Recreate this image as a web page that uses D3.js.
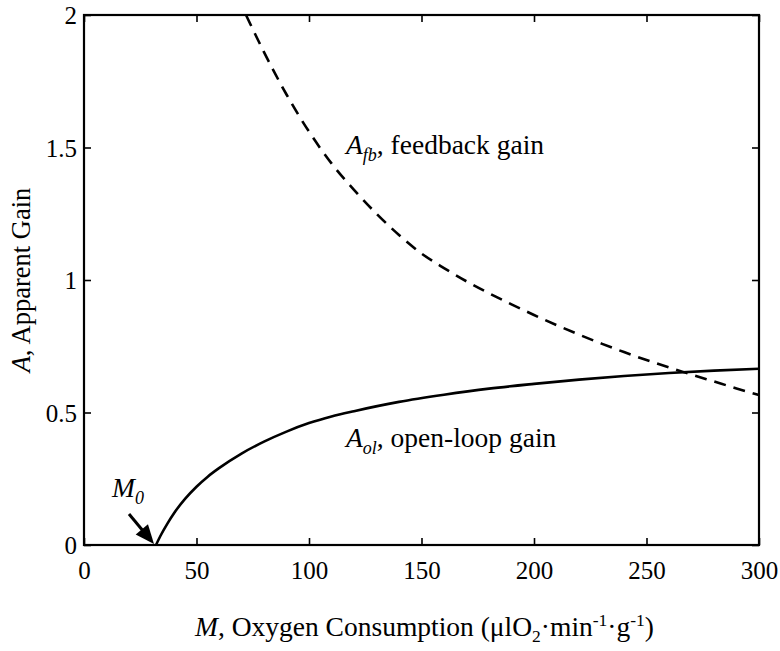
<!DOCTYPE html>
<html>
<head>
<meta charset="utf-8">
<script src="https://cdn.jsdelivr.net/npm/d3@7"></script>
<style>
  body { margin: 0; background: #fff; }
  svg { display: block; }
  text { font-family: "Liberation Serif", "Times New Roman", serif; fill: #000; }
</style>
</head>
<body>
<svg id="chart" width="780" height="651"></svg>
<script>
// ---- data ----
const openLoopM = [32, 34, 37, 40, 45, 50, 55, 60, 70, 80, 90, 100, 110, 120, 140, 160, 180, 200, 220, 240, 260, 280, 300];
const openLoopA = [0, 0.035, 0.08, 0.12, 0.175, 0.22, 0.258, 0.29, 0.345, 0.39, 0.428, 0.46, 0.485, 0.505, 0.54, 0.567, 0.59, 0.608, 0.624, 0.638, 0.649, 0.658, 0.665];
const feedbackM = [72, 80, 90, 100, 110, 120, 130, 140, 150, 160, 170, 180, 190, 200, 210, 220, 230, 240, 250, 260, 270, 280, 290, 300];
const feedbackA = [2.0, 1.86, 1.70, 1.56, 1.44, 1.34, 1.25, 1.17, 1.10, 1.045, 0.995, 0.95, 0.908, 0.868, 0.83, 0.794, 0.76, 0.728, 0.698, 0.67, 0.643, 0.617, 0.591, 0.566];
const xTicks = [0, 50, 100, 150, 200, 250, 300];
const yTicks = [0, 0.5, 1, 1.5, 2];
const m0Value = 32;

// ---- layout ----
const svg = d3.select("#chart");
const pL = 84, pR = 759, pT = 15, pB = 545;
const x = d3.scaleLinear().domain([0, 300]).range([pL, pR]);
const y = d3.scaleLinear().domain([0, 2]).range([pB, pT]);
const tick = 7;
const serif = '"Liberation Serif", "Times New Roman", serif';

// axes
const gx = svg.append("g").attr("transform", `translate(0,${pB})`)
  .call(d3.axisBottom(x).tickValues(xTicks).tickSizeInner(-tick).tickSizeOuter(0).tickPadding(16).tickFormat(d => String(d)));
const gxt = svg.append("g").attr("transform", `translate(0,${pT})`)
  .call(d3.axisTop(x).tickValues(xTicks).tickSizeInner(-tick).tickSizeOuter(0).tickFormat(""));
const gy = svg.append("g").attr("transform", `translate(${pL},0)`)
  .call(d3.axisLeft(y).tickValues(yTicks).tickSizeInner(-tick).tickSizeOuter(0).tickPadding(7).tickFormat(d => String(d)));
const gyr = svg.append("g").attr("transform", `translate(${pR},0)`)
  .call(d3.axisRight(y).tickValues(yTicks).tickSizeInner(-tick).tickSizeOuter(0).tickFormat(""));
[gx, gxt, gy, gyr].forEach(g => {
  g.attr("font-family", serif).attr("font-size", 25);
  g.select(".domain").remove();
  g.selectAll(".tick line").attr("stroke", "#000").attr("stroke-width", 1.6);
});
gy.selectAll(".tick text").attr("dy", "0.34em");

// frame
svg.append("rect").attr("x", pL).attr("y", pT).attr("width", pR - pL).attr("height", pB - pT)
  .attr("fill", "none").attr("stroke", "#000").attr("stroke-width", 2.2);

// curves
const line = d3.line().x(d => x(d[0])).y(d => y(d[1])).curve(d3.curveMonotoneX);
svg.append("path").datum(openLoopM.map((m, i) => [m, openLoopA[i]]))
  .attr("d", line).attr("fill", "none").attr("stroke", "#000").attr("stroke-width", 2.6);
svg.append("path").datum(feedbackM.map((m, i) => [m, feedbackA[i]]))
  .attr("d", line).attr("fill", "none").attr("stroke", "#000").attr("stroke-width", 2.6)
  .attr("stroke-dasharray", "12,8");

// annotations
function label(xp, yp, main, sub, rest) {
  const t = svg.append("text").attr("x", xp).attr("y", yp).style("font-size", "27.5px");
  t.append("tspan").style("font-style", "italic").text(main);
  t.append("tspan").style("font-style", "italic").style("font-size", "18px").attr("dy", 7).text(sub);
  if (rest) t.append("tspan").attr("dy", -7).text(rest);
}
label(346, 154, "A", "fb", ", feedback gain");
label(346, 447, "A", "ol", ", open-loop gain");
label(112, 497, "M", "0", null);

// arrow to M0
const tipX = x(m0Value) - 2, tipY = y(0) - 1;
const startX = 129, startY = 514;
const ang = Math.atan2(tipY - startY, tipX - startX);
const hl = 19, hw = 8;
const bx = tipX - hl * Math.cos(ang), by = tipY - hl * Math.sin(ang);
svg.append("line").attr("x1", startX).attr("y1", startY).attr("x2", bx + 2 * Math.cos(ang)).attr("y2", by + 2 * Math.sin(ang))
  .attr("stroke", "#000").attr("stroke-width", 3);
svg.append("path").attr("d", `M${tipX},${tipY} L${bx + hw * Math.sin(ang)},${by - hw * Math.cos(ang)} L${bx - hw * Math.sin(ang)},${by + hw * Math.cos(ang)} Z`)
  .attr("fill", "#000");

// axis titles
const xt = svg.append("text").attr("x", (pL + pR) / 2 + 3).attr("y", 636).attr("text-anchor", "middle").style("font-size", "27.5px");
xt.append("tspan").style("font-style", "italic").text("M");
xt.append("tspan").text(", Oxygen Consumption (μlO");
xt.append("tspan").style("font-size", "17.5px").attr("dy", 6).text("2");
xt.append("tspan").attr("dy", -6).text("·min");
xt.append("tspan").style("font-size", "17.5px").attr("dy", -10).text("-1");
xt.append("tspan").attr("dy", 10).text("·g");
xt.append("tspan").style("font-size", "17.5px").attr("dy", -10).text("-1");
xt.append("tspan").attr("dy", 10).text(")");

const yt = svg.append("text").attr("transform", `translate(30,${(pT + pB) / 2}) rotate(-90)`)
  .attr("text-anchor", "middle").style("font-size", "26.5px");
yt.append("tspan").style("font-style", "italic").text("A");
yt.append("tspan").text(", Apparent Gain");
</script>
</body>
</html>
